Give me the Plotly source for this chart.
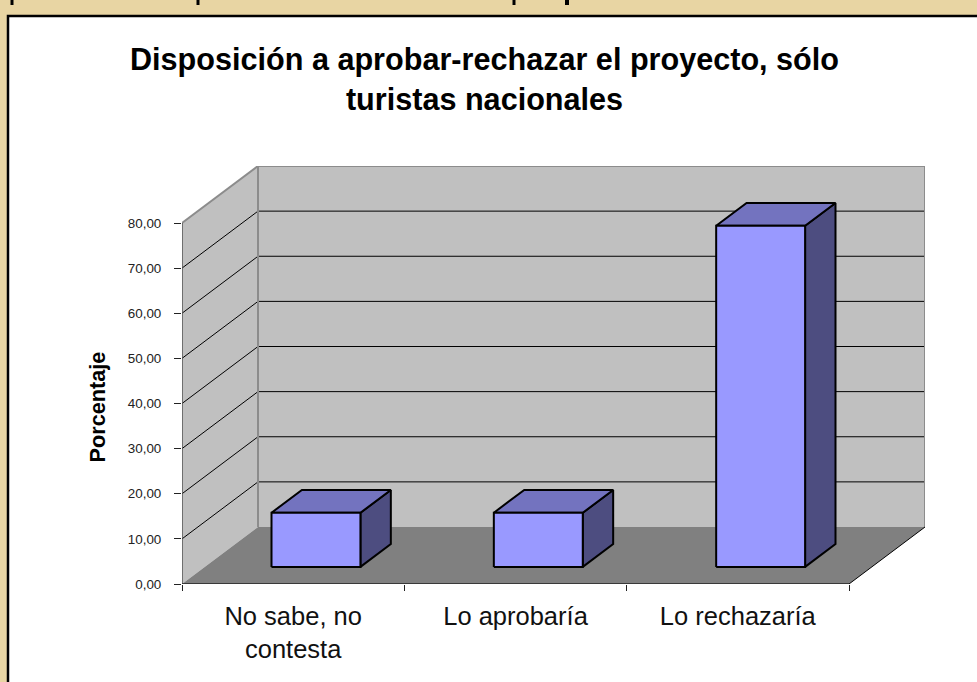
import plotly.graph_objects as go

# ---- data ----
categories = ["No sabe, no<br>contesta", "Lo aprobaría", "Lo rechazaría"]
values = [12.0, 12.0, 75.6]
y_ticks = [0, 10, 20, 30, 40, 50, 60, 70, 80]
title_text = "Disposición a aprobar-rechazar el proyecto, sólo<br>turistas nacionales"
y_title = "Porcentaje"

W, H = 977, 682
# pixel frame of the data area (front axes + depth)
LEFT, RIGHT_FRONT, BOTTOM, TOP_FRONT = 182, 849, 584, 223
DEPTH_PX_X, DEPTH_PX_Y = 76, 57
y_max = y_ticks[-1]
n = len(categories)
cat_px = (RIGHT_FRONT - LEFT) / n
val_px = (BOTTOM - TOP_FRONT) / y_max
DX = DEPTH_PX_X / cat_px     # depth expressed in category units
DY = DEPTH_PX_Y / val_px     # depth expressed in value units
BAR_W = 0.40                 # share of category width
Z0, Z1 = 0.30, 0.70          # bar extent along the depth axis


def proj(c, v, z):
    return c + z * DX, v + z * DY


def poly(points, fill, line_color=None, line_width=0, mode=None):
    xs, ys = zip(*[proj(*p) for p in points])
    return go.Scatter(
        x=list(xs), y=list(ys), mode=mode or ("lines" if line_width else "none"),
        fill="toself" if fill else None, fillcolor=fill,
        line=dict(color=line_color or "rgba(0,0,0,0)", width=line_width),
        hoverinfo="skip", showlegend=False, cliponaxis=False,
    )


def seg(points, color, width):
    xs, ys = zip(*[proj(*p) for p in points])
    return go.Scatter(x=list(xs), y=list(ys), mode="lines",
                      line=dict(color=color, width=width),
                      hoverinfo="skip", showlegend=False, cliponaxis=False)


WALL = "#C0C0C0"
FLOOR = "#808080"
FRONT = "#9999FF"
TOP = "#7373BF"
SIDE = "#4D4D80"

fig = go.Figure()
# walls and floor
fig.add_trace(poly([(0, 0, 0), (0, y_max, 0), (0, y_max, 1), (0, 0, 1)], WALL))
fig.add_trace(poly([(0, 0, 1), (0, y_max, 1), (n, y_max, 1), (n, 0, 1)], WALL))
fig.add_trace(poly([(0, 0, 0), (0, 0, 1), (n, 0, 1), (n, 0, 0)], FLOOR))
# grid
for v in y_ticks[1:-1]:
    fig.add_trace(seg([(0, v, 0), (0, v, 1), (n, v, 1)], "#000000", 1))
# wall outlines
fig.add_trace(seg([(0, y_max, 0), (0, y_max, 1), (n, y_max, 1), (n, 0, 1)], "#8C8C8C", 2))
fig.add_trace(seg([(0, 0, 1), (0, y_max, 1)], "#8C8C8C", 2))
fig.add_trace(seg([(n, 0, 1), (n, 0, 0)], "#000000", 1))
# axes
fig.add_trace(seg([(0, 0, 0), (0, y_max, 0)], "#555555", 1.5))
fig.add_trace(seg([(0, 0, 0), (n, 0, 0)], "#222222", 1.5))
# bars
for i, v in enumerate(values):
    a, b = i + 0.5 - BAR_W / 2, i + 0.5 + BAR_W / 2
    fig.add_trace(poly([(b, 0, Z0), (b, v, Z0), (b, v, Z1), (b, 0, Z1), (b, 0, Z0)], SIDE, "#000000", 2))
    fig.add_trace(poly([(a, v, Z0), (b, v, Z0), (b, v, Z1), (a, v, Z1), (a, v, Z0)], TOP, "#000000", 2))
    fig.add_trace(poly([(a, 0, Z0), (b, 0, Z0), (b, v, Z0), (a, v, Z0), (a, 0, Z0)], FRONT, "#000000", 2))

PAPER = "#E8D5A3"
shapes = [
    dict(type="rect", xref="paper", yref="paper", layer="below",
         x0=8 / W, x1=1.02, y0=-0.02, y1=1 - 16 / H,
         fillcolor="#FFFFFF", line=dict(color="#000000", width=2.5)),
]
# descenders of the cropped heading line above the panel
for px, pw in [(12, 3), (198, 3), (514, 3), (567, 4)]:
    shapes.append(dict(type="rect", xref="paper", yref="paper", layer="below",
                       x0=(px - pw / 2) / W, x1=(px + pw / 2) / W,
                       y0=1 - 5 / H, y1=1, fillcolor="#000000", line=dict(width=0)))

fig.update_layout(
    width=W, height=H, margin=dict(l=0, r=0, t=0, b=0, pad=0),
    paper_bgcolor=PAPER, plot_bgcolor="rgba(0,0,0,0)",
    font=dict(family="Liberation Sans, Arial, sans-serif", color="#000000"),
    shapes=shapes, showlegend=False,
    title=dict(text=title_text, x=484.5 / W, xanchor="center", xref="paper",
               y=1 - 70 / H, yanchor="top", yref="paper",
               font=dict(size=30.6, color="#000000", family="Liberation Sans, Arial, sans-serif", weight="bold")),
    annotations=[dict(text=y_title, textangle=-90, xref="paper", yref="paper",
                      x=97 / W, y=1 - 407.5 / H, xanchor="center", yanchor="middle",
                      showarrow=False,
                      font=dict(size=21.7, color="#000000", weight="bold"))],
    xaxis=dict(
        automargin=False,
        domain=[LEFT / W, (RIGHT_FRONT + DEPTH_PX_X) / W],
        range=[0, n + DX], showgrid=False, zeroline=False, showline=False,
        tickmode="array", tickvals=[i + 0.5 for i in range(n)], ticktext=categories,
        ticks="", tickfont=dict(size=25.5, color="#111111"), ticklabelstandoff=14,
        minor=dict(tickmode="array", tickvals=list(range(n + 1)), ticks="outside",
                   ticklen=6, tickwidth=1, tickcolor="#222222", showgrid=False),
    ),
    yaxis=dict(
        automargin=False,
        domain=[1 - (BOTTOM) / H, 1 - (TOP_FRONT - DEPTH_PX_Y) / H],
        range=[0, y_max + DY], showgrid=False, zeroline=False, showline=False,
        tickmode="array", tickvals=y_ticks,
        ticktext=[f"{v:.2f}".replace(".", ",") for v in y_ticks],
        ticks="outside", ticklen=7, tickwidth=1, tickcolor="#222222",
        tickfont=dict(size=13.4, color="#222222"), ticklabelstandoff=10,
    ),
)

fig.write_html("out.html", config={"displayModeBar": False},
               post_script="document.body.style.margin='0';document.body.style.overflow='hidden';")
